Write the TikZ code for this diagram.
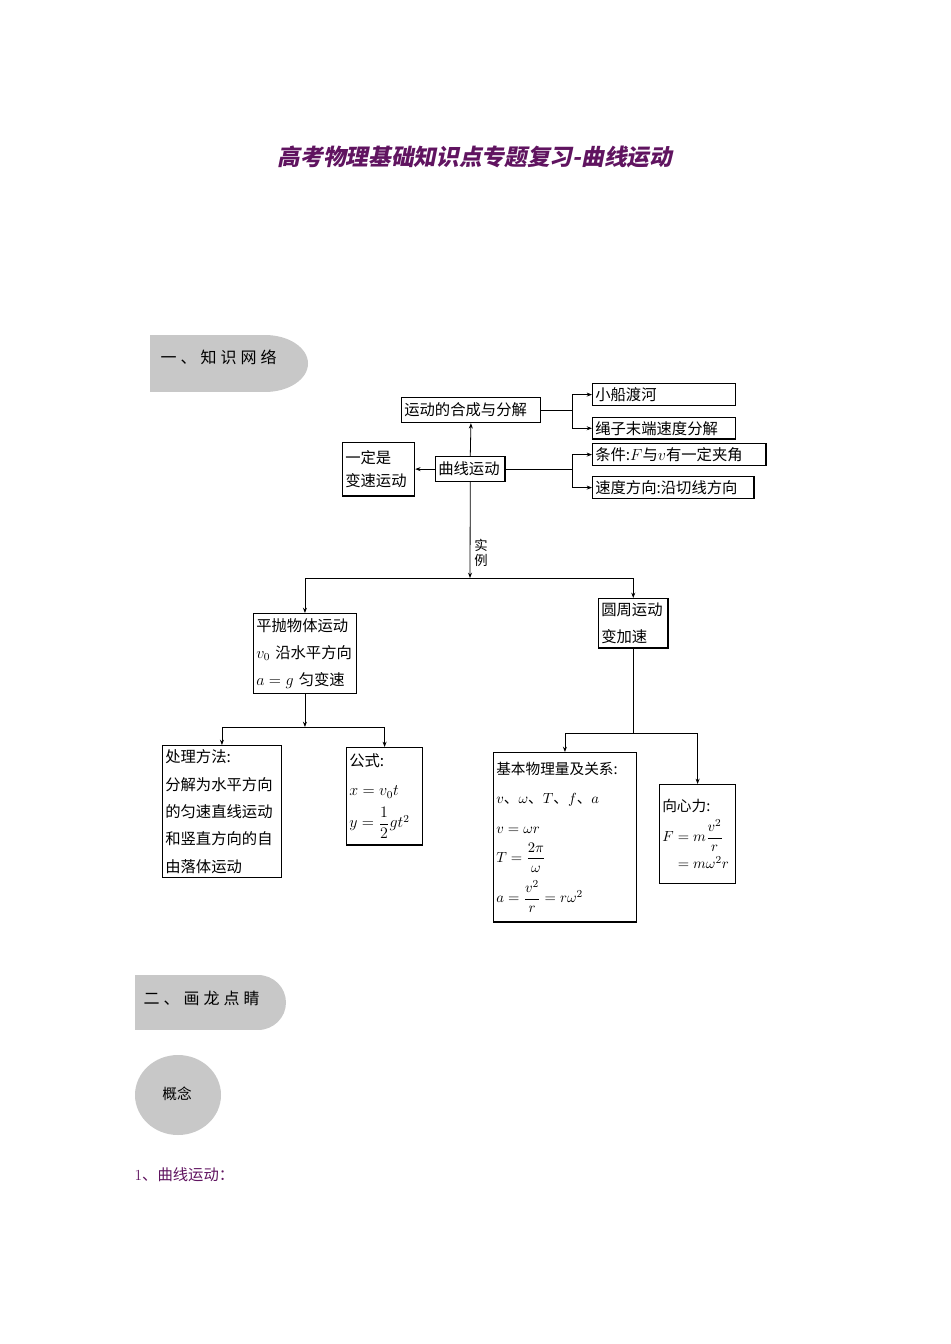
\documentclass[tikz,border=0pt]{standalone}
\usepackage{amsmath}
\usepackage{fontspec}
\newfontfamily\cjk{Noto Sans CJK SC}
\usetikzlibrary{arrows.meta}
\definecolor{titlepurple}{RGB}{96,20,96}
\definecolor{pillgray}{RGB}{200,200,200}
\begin{document}
\begin{tikzpicture}[x=0.75pt,y=-0.75pt,
  box/.style={draw,line width=0.9pt,inner sep=2pt,font=\cjk\fontsize{11.5}{17}\selectfont,align=left,anchor=north west},
  ln/.style={line width=0.6pt},
  arr/.style={ln,-{Stealth[length=4pt,width=3pt]}}]
\useasboundingbox (0,0) rectangle (950,1344);
% title
\node (title) at (475,157) {\cjk\fontsize{17}{20}\selectfont\bfseries\color{titlepurple}\addfontfeature{FakeSlant=0.2}高考物理基础知识点专题复习-曲线运动};
% section 1 pill
\begin{scope}
\clip (150,335) -- (265,335) arc[start angle=-90,end angle=90,x radius=43,y radius=28.5] -- (150,392) -- cycle;
\fill[pillgray] (150,335) rectangle (320,392);
\node[anchor=north west,align=left,text width=86pt,font=\cjk\fontsize{12}{22}\selectfont\addfontfeature{LetterSpace=25}] (s1) at (156,345) {一、知识网络};
\end{scope}
% boxes
\node[box,text width=100pt,minimum height=18.75pt] (hc) at (401,397) {运动的合成与分解};
\node[box,text width=103pt,minimum height=16.5pt] (xc) at (592,383) {小船渡河};
\node[box,text width=103pt,minimum height=16pt] (sz) at (592,417) {绳子末端速度分解};
\node[box,text width=50pt,minimum height=40pt] (yd) at (342,442) {一定是\\变速运动};
\node[box,text width=48pt,minimum height=18.75pt] (qx) at (435,456) {曲线运动};
\node[box,text width=126pt,minimum height=16.5pt] (tj) at (592,443) {条件:$F$与$v$有一定夹角};
\node[box,text width=117pt,minimum height=16.5pt] (sd) at (592,476) {速度方向:沿切线方向};
\node[box,text width=73pt,minimum height=60pt,font=\cjk\fontsize{11.5}{20}\selectfont] (pp) at (253,613) {平抛物体运动\\$v_0$ 沿水平方向\\$a=g$ 匀变速};
\node[box,text width=48pt,minimum height=37pt,font=\cjk\fontsize{11.5}{20}\selectfont] (yz) at (598,598) {圆周运动\\变加速};
\node[box,text width=85pt,minimum height=99pt,font=\cjk\fontsize{11.5}{20.5}\selectfont] (cl) at (162,745) {处理方法:\\分解为水平方向\\的匀速直线运动\\和竖直方向的自\\由落体运动};
\node[box,text width=53pt,minimum height=73pt,font=\cjk\fontsize{11.5}{18}\selectfont] (gs) at (346,747) {公式:\\[4pt]$x=v_0t$\\[6pt]$y=\dfrac{1}{2}gt^2$};
\node[box,text width=103pt,minimum height=127pt,font=\cjk\fontsize{11}{17}\selectfont] (jb) at (493,752) {基本物理量及关系:\\[5pt]$v$、$\omega$、$T$、$f$、$a$\\[5pt]$v=\omega r$\\[5pt]$T=\dfrac{2\pi}{\omega}$\\[5pt]$a=\dfrac{v^2}{r}=r\omega^2$};
\node[box,text width=53pt,minimum height=74pt,font=\cjk\fontsize{11}{17}\selectfont] (xx) at (659,784) {向心力:\\[4pt]$F=m\dfrac{v^2}{r}$\\[3pt]$\phantom{F}=m\omega^2r$};
% connectors
\coordinate (q1) at (hc.east -| 572,0);
\draw[ln] (hc.east) -- (q1);
\draw[arr] (q1) |- (xc.west);
\draw[arr] (q1) |- (sz.west);
\coordinate (q2) at (qx.east -| 572,0);
\draw[ln] (qx.east) -- (q2);
\draw[arr] (q2) |- (tj.west);
\draw[arr] (q2) |- (sd.west);
\draw[arr] (qx.west) -- (yd.east |- qx.west);
\draw[arr] (qx.north) -- (hc.south);
\coordinate (j1) at (470,578);
\draw[arr] (qx.south) -- (j1);
\node[font=\cjk\fontsize{10}{11}\selectfont,align=center] (sl) at (481,553) {实\\例};
\draw[arr] (j1) -| (pp.north);
\draw[arr] (j1) -| (yz.north);
\coordinate (j2) at (pp.south |- 0,727);
\draw[arr] (pp.south) -- (j2);
\draw[arr] (j2) -| (cl.north);
\draw[arr] (j2) -| (gs.north);
\coordinate (j3) at (yz.south |- 0,733);
\draw[ln] (yz.south) -- (j3);
\draw[arr] (j3) -| (jb.north);
\draw[arr] (j3) -| (xx.north);
% section 2 pill
\begin{scope}
\clip (135,975) -- (258,975) arc[start angle=-90,end angle=90,x radius=28,y radius=27.5] -- (135,1030) -- cycle;
\fill[pillgray] (135,975) rectangle (300,1030);
\node[anchor=north west,align=left,text width=86pt,font=\cjk\fontsize{12}{22}\selectfont\addfontfeature{LetterSpace=25}] (s2) at (139,986) {二、画龙点睛};
\end{scope}
\fill[pillgray] (178,1095) ellipse[x radius=43,y radius=40];
\node[font=\cjk\fontsize{11}{13}\selectfont] (gn) at (177,1094) {概念};
\node[anchor=west,font=\fontsize{11.5}{13}\selectfont,text=titlepurple] (q) at (130,1175) {1\cjk、曲线运动：};
\end{tikzpicture}
\end{document}
